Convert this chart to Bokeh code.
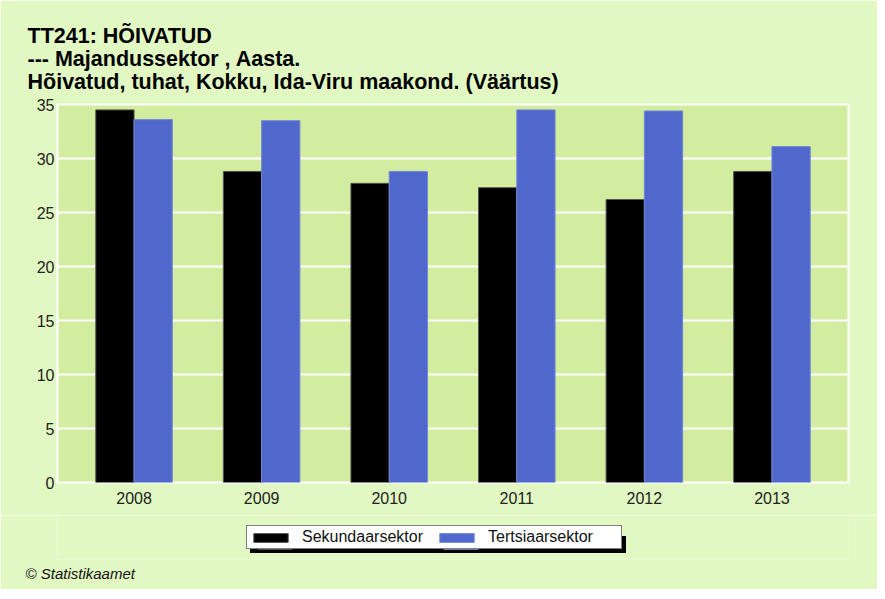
from bokeh.plotting import figure
from bokeh.models import (FactorRange, Range1d, Legend, LegendItem, Title,
                          SingleIntervalTicker)
from bokeh.layouts import column
from bokeh.transform import dodge
from bokeh.embed import file_html
from bokeh.resources import INLINE

years = ["2008", "2009", "2010", "2011", "2012", "2013"]
sekundaar = [34.5, 28.8, 27.7, 27.3, 26.2, 28.8]
tertsiaar = [33.6, 33.5, 28.8, 34.5, 34.4, 31.1]

title_lines = ["TT241: HÕIVATUD",
               "--- Majandussektor , Aasta.",
               "Hõivatud, tuhat, Kokku, Ida-Viru maakond. (Väärtus)"]
series_names = ["Sekundaarsektor", "Tertsiaarsektor"]
credit = "© Statistikaamet"

OUTER = "#E1F8C3"
INNER = "#D2ECA0"
BLUE = "#5068CC"
BLUE_EDGE = "#7486D8"
FONT = "Liberation Sans"
LEFT, RIGHT = 57, 29

# ---------------- main chart ----------------
p = figure(width=877, height=515, output_backend="svg", toolbar_location=None,
           title=None,
           x_range=FactorRange(factors=years, range_padding=0.1, range_padding_units="absolute"),
           y_range=Range1d(0, 35),
           min_border_left=LEFT, min_border_right=RIGHT, min_border_top=104, min_border_bottom=33)
p.border_fill_color = OUTER
p.background_fill_color = INNER
p.outline_line_color = "white"
p.outline_line_width = 2

src = dict(years=years, sek=sekundaar, ter=tertsiaar)
r1 = p.vbar(x=dodge("years", -0.15, range=p.x_range), top="sek", width=0.3, source=src,
            fill_color="black", line_color="#555555", line_width=1)
r2 = p.vbar(x=dodge("years", 0.15, range=p.x_range), top="ter", width=0.3, source=src,
            fill_color=BLUE, line_color=BLUE_EDGE, line_width=1)

p.xgrid.grid_line_color = None
p.ygrid.grid_line_color = "white"
p.ygrid.grid_line_width = 2
p.yaxis.ticker = SingleIntervalTicker(interval=5)
for ax in (p.xaxis[0], p.yaxis[0]):
    ax.axis_line_color = None
    ax.major_tick_line_color = None
    ax.minor_tick_line_color = None
    ax.major_tick_out = 0
    ax.major_tick_in = 0
    ax.minor_tick_out = 0
    ax.major_label_text_font = FONT
    ax.major_label_text_font_size = "16px"
    ax.major_label_text_color = "#222222"
p.xaxis.major_label_standoff = 9
p.yaxis.major_label_standoff = 3

head = Title(text="\n".join(title_lines), text_font=FONT, text_font_size="21.5px",
             text_font_style="bold", text_color="black", align="left",
             offset=-30, standoff=20, text_line_height=0.97)
p.add_layout(head, "above")

# ---------------- legend strip ----------------
p2 = figure(width=877, height=74, output_backend="svg", toolbar_location=None,
            x_range=Range1d(0, 1), y_range=Range1d(0, 1),
            x_axis_type=None, y_axis_type=None,
            min_border_left=LEFT, min_border_right=RIGHT,
            min_border_top=0, min_border_bottom=30)
p2.border_fill_color = OUTER
p2.background_fill_color = OUTER
p2.outline_line_color = None
p2.grid.visible = False

k1 = p2.vbar(x=[0.5], top=[0.5], width=0.1, fill_color="black", line_color="#555555", visible=False)
k2 = p2.vbar(x=[0.5], top=[0.5], width=0.1, fill_color=BLUE, line_color=BLUE_EDGE, visible=False)

common = dict(orientation="horizontal", glyph_width=43, glyph_height=11,
              label_width=131, label_standoff=10, spacing=2, padding=2, margin=0,
              label_text_font=FONT, label_text_font_size="16px",
              background_fill_alpha=1, inactive_fill_alpha=0)
shadow = Legend(items=[LegendItem(label=" ", renderers=[k1]),
                       LegendItem(label=" ", renderers=[k2])],
                location=(193, 6), background_fill_color="black",
                border_line_color="black", label_text_color="black", **common)
legend = Legend(items=[LegendItem(label=series_names[0], renderers=[k1]),
                       LegendItem(label=series_names[1], renderers=[k2])],
                location=(189, 10), background_fill_color="white",
                border_line_color="black", border_line_width=1,
                label_text_color="#111111", **common)
p2.add_layout(shadow, "center")
p2.add_layout(legend, "center")

p2.add_layout(Title(text=credit, text_font=FONT, text_font_size="15px",
                    text_font_style="italic", text_color="#111111",
                    align="left", offset=-32, standoff=6), "below")

layout = column(p, p2, spacing=0)
open("out.html", "w").write(file_html(layout, INLINE))
